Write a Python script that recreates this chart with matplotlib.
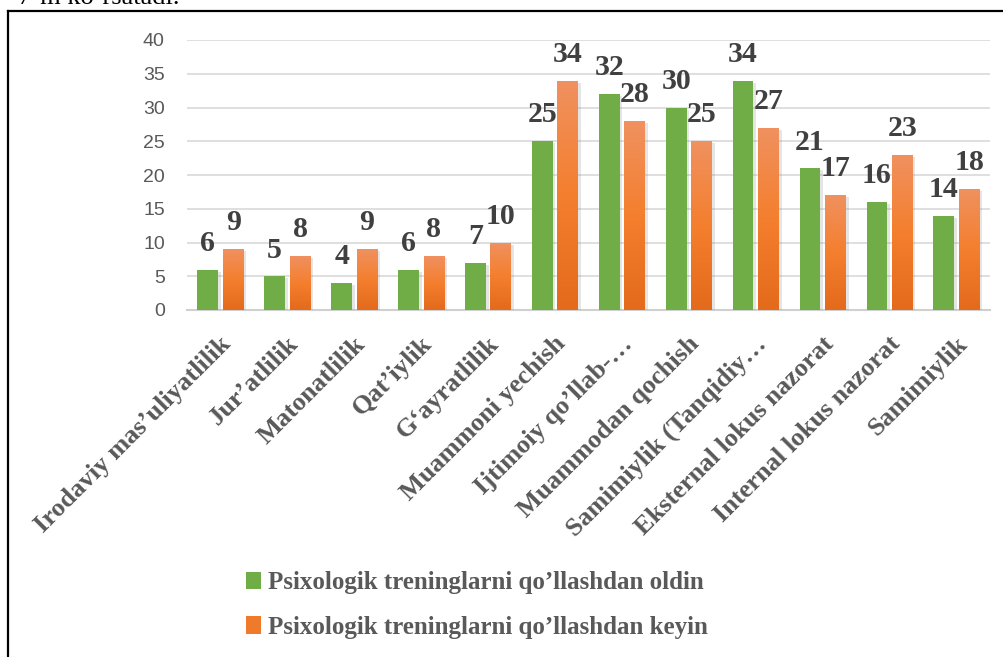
import numpy as np
import matplotlib
matplotlib.use("Agg")
import matplotlib.pyplot as plt
import matplotlib.patheffects as pe
from matplotlib.patches import Patch
from matplotlib.colors import LinearSegmentedColormap
from matplotlib.transforms import ScaledTranslation

# data
categories = [
    "Irodaviy mas\u2019uliyatlilik",
    "Jur\u2019atlilik",
    "Matonatlilik",
    "Qat\u2019iylik",
    "G\u2018ayratlilik",
    "Muammoni yechish",
    "Ijtimoiy qo\u2019llab-\u2026",
    "Muammodan qochish",
    "Samimiylik (Tanqidiy\u2026",
    "Eksternal lokus nazorat",
    "Internal lokus nazorat",
    "Samimiylik",
]
before = [6, 5, 4, 6, 7, 25, 32, 30, 34, 21, 16, 14]
after = [9, 8, 9, 8, 10, 34, 28, 25, 27, 17, 23, 18]
series_names = [
    "Psixologik treninglarni qo\u2019llashdan oldin",
    "Psixologik treninglarni qo\u2019llashdan keyin",
]
yticks = [0, 5, 10, 15, 20, 25, 30, 35, 40]

green = "#70AD47"
orange = "#F07A2C"
label_dark = "#404040"
label_gray = "#595959"
serif = "Liberation Serif"

fig = plt.figure(figsize=(10.04, 6.57), dpi=100)
ax = fig.add_axes([187 / 1004, 1 - 310 / 657, (990 - 187) / 1004, (310 - 40) / 657])

x = np.arange(len(categories))
w = 0.31
off = 0.19
shadow = [pe.SimplePatchShadow(offset=(2, -1.5), shadow_rgbFace="#8c8c8c", alpha=0.22), pe.Normal()]

bars1 = ax.bar(x - off, before, w, color=green, zorder=3)
bars2 = ax.bar(x + off, after, w, color=orange, zorder=3)
for b in list(bars1) + list(bars2):
    b.set_path_effects(shadow)

# orange bars get a light-to-dark vertical gradient like the original
grad_cmap = LinearSegmentedColormap.from_list("og", ["#E46A1C", "#F47F2E", "#F0915F"])
grad = np.linspace(0, 1, 100).reshape(-1, 1)
for b in bars2:
    x0, y0 = b.get_x(), b.get_y()
    im = ax.imshow(grad, extent=[x0, x0 + b.get_width(), y0, y0 + b.get_height()],
                   origin="lower", aspect="auto", cmap=grad_cmap, zorder=3.5)
    im.set_clip_path(b)

# value labels
for bars, vals in ((bars1, before), (bars2, after)):
    for b, v in zip(bars, vals):
        ax.annotate(str(v), (b.get_x() + b.get_width() / 2, v), xytext=(0, 13.5),
                    textcoords="offset points", ha="center", va="baseline",
                    fontsize=21.5, fontweight="bold", family=serif, color=label_dark, zorder=5)

ax.set_xlim(-0.5, len(categories) - 0.5)
ax.set_ylim(0, 40)
ax.set_yticks(yticks)
ax.set_yticklabels([str(t) for t in yticks], family="Liberation Sans", fontsize=14, color=label_gray)
ax.tick_params(axis="y", length=0, pad=16)
ax.tick_params(axis="x", length=0, pad=16)
ax.set_xticks(x)
ax.set_xticklabels(categories, rotation=45, ha="right", va="top", rotation_mode="anchor",
                   family=serif, fontweight="bold", fontsize=19, color=label_gray)
shift = ScaledTranslation(-1 / 100, 0, fig.dpi_scale_trans)
for lab in ax.get_xticklabels():
    lab.set_transform(lab.get_transform() + shift)

ax.grid(axis="y", color="#D9D9D9", linewidth=1.2)
ax.set_axisbelow(True)
for s in ("top", "right", "left"):
    ax.spines[s].set_visible(False)
ax.spines["bottom"].set_color("#D0D0D0")
ax.spines["bottom"].set_linewidth(1.5)

handles = [Patch(facecolor=green), Patch(facecolor=orange)]
fig.legend(handles, series_names, loc="center", bbox_to_anchor=(477 / 1004, 1 - 605 / 657),
           frameon=False, handlelength=0.6, handleheight=0.7, handletextpad=0.3,
           labelspacing=0.85, prop={"family": serif, "weight": "bold", "size": 18},
           labelcolor=label_gray)

# frame around the chart (left and top edges are visible) and cut-off text above it
fig.add_artist(plt.Line2D([8.5 / 1004, 8.5 / 1004], [0, 1 - 11 / 657], color="black", lw=1.6))
fig.add_artist(plt.Line2D([8.5 / 1004, 1], [1 - 11 / 657, 1 - 11 / 657], color="black", lw=1.6))
fig.text(18 / 1004, 1 - 4 / 657, "7-m ko\u2018rsatadi.", family=serif, fontsize=19,
         color="black", va="baseline", ha="left")

fig.savefig("out.png", dpi=100)
